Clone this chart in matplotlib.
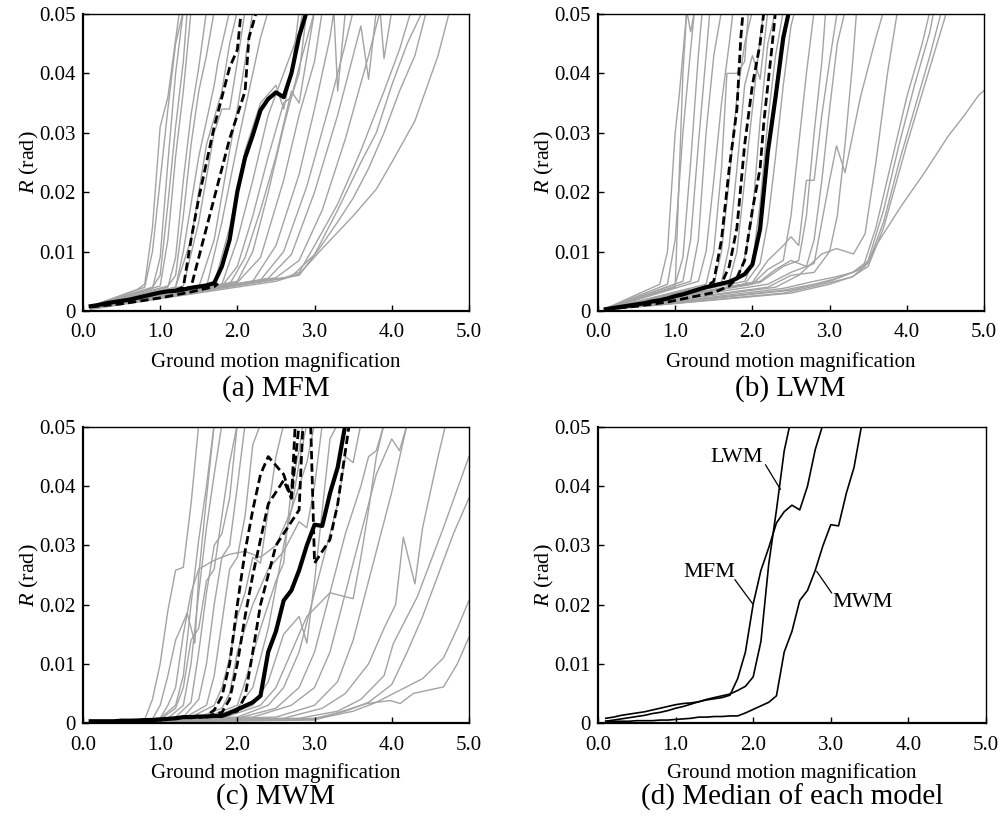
import numpy as np
import matplotlib.pyplot as plt

plt.rcParams['font.family'] = ['Liberation Serif', 'DejaVu Serif']
plt.rcParams['mathtext.fontset'] = 'custom'
plt.rcParams['mathtext.rm'] = 'Liberation Serif'
plt.rcParams['mathtext.it'] = 'Liberation Serif:italic'

# ground motion magnification grid (0.1 steps)
gm = np.round(np.arange(1, 51) * 0.1, 1)

# median curves of each model
mfm_median = [0.0008, 0.0010, 0.0013, 0.0015, 0.0017, 0.0019, 0.0022, 0.0025, 0.0028, 0.0031,
              0.0033, 0.0034, 0.0036, 0.0039, 0.0041, 0.0043, 0.0047, 0.0075, 0.0120, 0.0201,
              0.0258, 0.0296, 0.0338, 0.0357, 0.0368, 0.0360, 0.0400, 0.0462, 0.0505]
lwm_median = [0.0003, 0.0005, 0.0007, 0.0009, 0.0011, 0.0013, 0.0016, 0.0018, 0.0021, 0.0025,
              0.0028, 0.0032, 0.0036, 0.0040, 0.0043, 0.0046, 0.0049, 0.0055, 0.0062, 0.0078,
              0.0138, 0.0268, 0.0360, 0.0460, 0.0520]
mwm_median = [0.0003, 0.0003, 0.0003, 0.0003, 0.0004, 0.0004, 0.0004, 0.0005, 0.0005, 0.0006,
              0.0007, 0.0008, 0.0010, 0.0010, 0.0011, 0.0011, 0.0012, 0.0012, 0.0017, 0.0023,
              0.0029, 0.0035, 0.0046, 0.0120, 0.0155, 0.0207, 0.0224, 0.0258, 0.0300, 0.0335,
              0.0333, 0.0388, 0.0432, 0.0505]

# dashed percentile curves (x, R)
mfm_dash = [
    [(1.2, 0.0035), (1.3, 0.0040), (1.4, 0.012), (1.5, 0.019), (1.6, 0.025), (1.7, 0.031),
     (1.8, 0.036), (1.9, 0.041), (2.0, 0.044), (2.05, 0.0505)],
    [(1.3, 0.0037), (1.4, 0.0040), (1.5, 0.009), (1.6, 0.014), (1.7, 0.019), (1.8, 0.024),
     (1.9, 0.029), (2.0, 0.033), (2.1, 0.037), (2.15, 0.046), (2.25, 0.0505)],
    [(0.1, 0.0007), (0.5, 0.0012), (0.8, 0.0018), (1.0, 0.0022), (1.2, 0.0027), (1.4, 0.0032),
     (1.6, 0.0038), (1.7, 0.0041), (1.75, 0.0046)],
]
lwm_dash = [
    [(1.3, 0.0036), (1.4, 0.0041), (1.5, 0.0050), (1.6, 0.012), (1.7, 0.024), (1.8, 0.034),
     (1.85, 0.046), (1.88, 0.0505)],
    [(1.5, 0.0044), (1.6, 0.0046), (1.7, 0.0075), (1.8, 0.014), (1.9, 0.028), (2.0, 0.038),
     (2.1, 0.045), (2.15, 0.0505)],
    [(0.1, 0.0003), (0.5, 0.0008), (0.9, 0.0015), (1.2, 0.0023), (1.5, 0.0031), (1.7, 0.0042),
     (1.8, 0.0056), (1.9, 0.0085), (2.0, 0.017), (2.1, 0.024), (2.15, 0.032), (2.2, 0.038),
     (2.25, 0.044), (2.3, 0.0505)],
]
mwm_dash = [
    [(1.5, 0.0009), (1.6, 0.0012), (1.7, 0.0022), (1.8, 0.0045), (1.9, 0.010), (2.0, 0.020),
     (2.1, 0.029), (2.2, 0.036), (2.3, 0.042), (2.4, 0.045), (2.5, 0.0435), (2.6, 0.042),
     (2.7, 0.038), (2.75, 0.0505)],
    [(1.6, 0.0010), (1.7, 0.0015), (1.8, 0.0018), (1.9, 0.004), (2.0, 0.010), (2.1, 0.018),
     (2.2, 0.025), (2.3, 0.031), (2.4, 0.037), (2.5, 0.039), (2.6, 0.041), (2.7, 0.038),
     (2.8, 0.0505)],
    [(1.8, 0.0012), (2.0, 0.0020), (2.1, 0.0045), (2.2, 0.012), (2.3, 0.020), (2.4, 0.025),
     (2.5, 0.030), (2.6, 0.032), (2.7, 0.034), (2.8, 0.036), (2.85, 0.0505), (2.95, 0.0505),
     (3.0, 0.027), (3.1, 0.029), (3.2, 0.031), (3.3, 0.037), (3.4, 0.046), (3.45, 0.0505)],
]

# individual ground motion records (x, R)
mfm_runs = [
    [(0.1, 0.0008), (0.7, 0.0036), (0.8, 0.0045), (0.9, 0.014), (1.0, 0.031), (1.1, 0.036), (1.25, 0.0505)],
    [(0.1, 0.0007), (0.8, 0.0040), (0.9, 0.010), (1.0, 0.022), (1.1, 0.034), (1.2, 0.045), (1.3, 0.0505)],
    [(0.1, 0.0006), (0.9, 0.0038), (1.0, 0.009), (1.1, 0.025), (1.2, 0.040), (1.3, 0.0505)],
    [(0.1, 0.0008), (0.9, 0.0040), (1.0, 0.006), (1.1, 0.018), (1.2, 0.031), (1.3, 0.042), (1.35, 0.0505)],
    [(0.1, 0.0007), (1.0, 0.0042), (1.1, 0.012), (1.2, 0.026), (1.3, 0.037), (1.4, 0.0505)],
    [(0.1, 0.0006), (1.1, 0.0040), (1.2, 0.009), (1.3, 0.022), (1.4, 0.033), (1.5, 0.041), (1.6, 0.0505)],
    [(0.1, 0.0007), (1.1, 0.0042), (1.2, 0.006), (1.3, 0.016), (1.4, 0.028), (1.5, 0.037), (1.6, 0.043), (1.7, 0.0505)],
    [(0.1, 0.0006), (1.2, 0.0040), (1.3, 0.010), (1.5, 0.026), (1.7, 0.038), (1.75, 0.042), (1.9, 0.0505)],
    [(0.1, 0.0006), (1.2, 0.0040), (1.4, 0.012), (1.6, 0.028), (1.8, 0.037), (1.9, 0.045), (2.0, 0.0505)],
    [(0.1, 0.0005), (1.3, 0.0042), (1.5, 0.015), (1.7, 0.030), (1.8, 0.034), (1.9, 0.034), (2.0, 0.042), (2.1, 0.0505)],
    [(0.1, 0.0006), (1.5, 0.0040), (1.7, 0.012), (1.9, 0.027), (2.0, 0.034), (2.1, 0.042), (2.2, 0.0505)],
    [(0.1, 0.0006), (1.6, 0.0040), (1.8, 0.015), (2.0, 0.028), (2.2, 0.040), (2.3, 0.046), (2.4, 0.0505)],
    [(0.1, 0.0005), (1.7, 0.0045), (1.9, 0.014), (2.1, 0.027), (2.3, 0.035), (2.5, 0.038), (2.6, 0.034), (2.7, 0.040), (2.8, 0.0505)],
    [(0.1, 0.0005), (1.8, 0.0045), (2.0, 0.012), (2.2, 0.022), (2.4, 0.033), (2.6, 0.040), (2.8, 0.047), (2.85, 0.0505)],
    [(0.1, 0.0005), (1.8, 0.0042), (2.0, 0.0075), (2.2, 0.016), (2.4, 0.026), (2.6, 0.035), (2.7, 0.036), (2.8, 0.040), (2.9, 0.0505)],
    [(0.1, 0.0005), (1.9, 0.0045), (2.1, 0.009), (2.3, 0.017), (2.5, 0.026), (2.7, 0.037), (2.8, 0.035), (3.0, 0.0505)],
    [(0.1, 0.0005), (2.0, 0.0050), (2.2, 0.010), (2.4, 0.020), (2.6, 0.031), (2.8, 0.041), (3.0, 0.0505)],
    [(0.1, 0.0005), (2.0, 0.0048), (2.3, 0.009), (2.6, 0.022), (2.8, 0.033), (3.0, 0.042), (3.1, 0.0505)],
    [(0.1, 0.0004), (2.2, 0.0050), (2.5, 0.011), (2.8, 0.023), (3.0, 0.034), (3.2, 0.046), (3.25, 0.0505), (3.3, 0.037), (3.4, 0.0505)],
    [(0.1, 0.0004), (2.3, 0.0052), (2.6, 0.010), (2.9, 0.021), (3.2, 0.035), (3.4, 0.045), (3.5, 0.0505)],
    [(0.1, 0.0004), (2.4, 0.0055), (2.7, 0.0095), (3.0, 0.020), (3.3, 0.033), (3.6, 0.048), (3.7, 0.039), (3.8, 0.0505)],
    [(0.1, 0.0004), (2.5, 0.0056), (2.8, 0.0085), (3.1, 0.017), (3.4, 0.029), (3.7, 0.043), (3.85, 0.0505), (3.9, 0.0425), (4.0, 0.0505)],
    [(0.1, 0.0004), (2.6, 0.0055), (2.8, 0.0065), (3.0, 0.011), (3.3, 0.018), (3.6, 0.027), (3.9, 0.037), (4.1, 0.044), (4.25, 0.0505)],
    [(0.1, 0.0004), (2.7, 0.0058), (3.0, 0.0095), (3.3, 0.017), (3.6, 0.025), (3.8, 0.030), (4.0, 0.038), (4.2, 0.045), (4.4, 0.0505)],
    [(0.1, 0.0003), (2.8, 0.0060), (3.05, 0.0103), (3.3, 0.015), (3.5, 0.019), (3.7, 0.024), (3.9, 0.030), (4.1, 0.037), (4.3, 0.043), (4.45, 0.0505)],
    [(0.1, 0.0003), (2.5, 0.0050), (2.8, 0.0062), (3.1, 0.0105), (3.5, 0.016), (3.8, 0.0205), (4.0, 0.025), (4.3, 0.032), (4.6, 0.043), (4.75, 0.0505)],
]
lwm_runs = [
    [(0.1, 0.0004), (0.8, 0.0045), (0.9, 0.010), (1.0, 0.030), (1.05, 0.036), (1.15, 0.0505)],
    [(0.1, 0.0004), (0.9, 0.0045), (1.0, 0.012), (1.1, 0.030), (1.2, 0.044), (1.25, 0.0505)],
    [(0.1, 0.0004), (1.0, 0.0040), (1.1, 0.040), (1.15, 0.0505), (1.2, 0.047), (1.25, 0.0505)],
    [(0.1, 0.0004), (1.0, 0.0045), (1.1, 0.009), (1.2, 0.025), (1.3, 0.043), (1.35, 0.0505)],
    [(0.1, 0.0004), (1.1, 0.0050), (1.2, 0.012), (1.3, 0.028), (1.4, 0.043), (1.45, 0.0505)],
    [(0.1, 0.0004), (1.2, 0.0050), (1.3, 0.012), (1.4, 0.030), (1.5, 0.043), (1.6, 0.0505)],
    [(0.1, 0.0003), (1.3, 0.0050), (1.4, 0.010), (1.5, 0.022), (1.6, 0.035), (1.7, 0.045), (1.75, 0.0505)],
    [(0.1, 0.0003), (1.4, 0.0045), (1.5, 0.010), (1.6, 0.024), (1.67, 0.040), (1.8, 0.040), (1.9, 0.042), (1.95, 0.0505)],
    [(0.1, 0.0003), (1.5, 0.0045), (1.6, 0.010), (1.7, 0.022), (1.8, 0.036), (1.9, 0.045), (2.0, 0.0505)],
    [(0.1, 0.0003), (1.6, 0.0048), (1.7, 0.011), (1.8, 0.024), (1.9, 0.038), (2.0, 0.043), (2.1, 0.039), (2.2, 0.0505)],
    [(0.1, 0.0003), (1.7, 0.0050), (1.8, 0.010), (1.9, 0.022), (2.0, 0.034), (2.1, 0.046), (2.15, 0.0505)],
    [(0.1, 0.0003), (1.8, 0.0052), (1.9, 0.009), (2.0, 0.016), (2.1, 0.032), (2.2, 0.045), (2.3, 0.0505)],
    [(0.1, 0.0003), (1.9, 0.0050), (2.0, 0.008), (2.1, 0.018), (2.2, 0.032), (2.3, 0.043), (2.4, 0.0505)],
    [(0.1, 0.0003), (1.9, 0.0045), (2.1, 0.008), (2.2, 0.015), (2.3, 0.026), (2.4, 0.038), (2.5, 0.048), (2.55, 0.0505)],
    [(0.1, 0.0003), (2.0, 0.0048), (2.2, 0.0085), (2.4, 0.011), (2.5, 0.0125), (2.6, 0.011), (2.7, 0.022), (2.8, 0.022), (2.9, 0.033), (3.0, 0.042), (3.1, 0.0505)],
    [(0.1, 0.0003), (2.0, 0.0045), (2.2, 0.0070), (2.4, 0.0085), (2.5, 0.016), (2.6, 0.028), (2.7, 0.040), (2.8, 0.0505)],
    [(0.1, 0.0003), (2.1, 0.0048), (2.4, 0.0075), (2.6, 0.0085), (2.7, 0.016), (2.8, 0.030), (2.9, 0.042), (2.95, 0.0505)],
    [(0.1, 0.0003), (2.1, 0.0050), (2.3, 0.0070), (2.5, 0.0085), (2.7, 0.0075), (2.8, 0.012), (2.9, 0.022), (3.0, 0.034), (3.1, 0.045), (3.2, 0.0505)],
    [(0.1, 0.0003), (2.2, 0.0045), (2.5, 0.0065), (2.8, 0.0080), (2.9, 0.015), (3.0, 0.022), (3.09, 0.0278), (3.2, 0.0233), (3.4, 0.036), (3.6, 0.046), (3.7, 0.0505)],
    [(0.1, 0.0003), (2.2, 0.0040), (2.5, 0.0060), (2.8, 0.0065), (3.0, 0.010), (3.1, 0.016), (3.2, 0.028), (3.3, 0.042), (3.35, 0.0505)],
    [(0.1, 0.0003), (2.3, 0.0040), (2.6, 0.0060), (2.9, 0.0096), (3.09, 0.0105), (3.31, 0.0096), (3.46, 0.013), (3.6, 0.025), (3.75, 0.040), (3.88, 0.0505)],
    [(0.1, 0.0002), (2.4, 0.0038), (2.8, 0.0050), (3.1, 0.0058), (3.3, 0.0065), (3.45, 0.0080), (3.6, 0.014), (3.8, 0.025), (4.0, 0.036), (4.2, 0.045), (4.3, 0.0505)],
    [(0.1, 0.0002), (2.4, 0.0035), (2.8, 0.0045), (3.1, 0.0055), (3.4, 0.0070), (3.5, 0.0085), (3.7, 0.017), (3.9, 0.028), (4.1, 0.038), (4.3, 0.047), (4.35, 0.0505)],
    [(0.1, 0.0002), (2.5, 0.0035), (3.0, 0.0050), (3.3, 0.0065), (3.5, 0.0080), (3.7, 0.015), (3.9, 0.025), (4.1, 0.034), (4.3, 0.043), (4.45, 0.0505)],
    [(0.1, 0.0002), (2.5, 0.0030), (3.0, 0.0045), (3.3, 0.0058), (3.5, 0.0075), (3.7, 0.014), (4.0, 0.028), (4.3, 0.041), (4.52, 0.0505)],
    [(0.1, 0.0002), (2.4, 0.0030), (2.85, 0.0043), (3.29, 0.0057), (3.46, 0.0075), (3.63, 0.0116), (3.93, 0.0177),
     (4.23, 0.0233), (4.54, 0.0295), (4.75, 0.033), (4.93, 0.0363), (5.0, 0.0371)],
]
mwm_runs = [
    [(0.1, 0.0002), (0.8, 0.0006), (0.9, 0.004), (1.0, 0.010), (1.1, 0.019), (1.2, 0.0258), (1.3, 0.0263), (1.4, 0.037), (1.5, 0.0505)],
    [(0.1, 0.0002), (0.9, 0.0007), (1.0, 0.003), (1.1, 0.008), (1.2, 0.014), (1.3, 0.017), (1.35, 0.0186), (1.45, 0.0135), (1.5, 0.025), (1.6, 0.038), (1.7, 0.0505)],
    [(0.1, 0.0002), (1.0, 0.0008), (1.1, 0.003), (1.2, 0.006), (1.3, 0.015), (1.4, 0.022), (1.5, 0.026), (1.7, 0.0275), (1.9, 0.0285), (2.1, 0.029), (2.3, 0.028), (2.5, 0.030), (2.7, 0.036), (2.9, 0.044), (3.0, 0.0505)],
    [(0.1, 0.0002), (1.0, 0.0008), (1.2, 0.003), (1.3, 0.008), (1.4, 0.020), (1.5, 0.031), (1.6, 0.040), (1.7, 0.0505)],
    [(0.1, 0.0002), (1.1, 0.0008), (1.3, 0.003), (1.4, 0.010), (1.5, 0.022), (1.6, 0.033), (1.7, 0.042), (1.8, 0.0505)],
    [(0.1, 0.0002), (1.2, 0.0010), (1.4, 0.0035), (1.5, 0.012), (1.6, 0.022), (1.7, 0.030), (1.8, 0.032), (1.9, 0.038), (2.0, 0.0505)],
    [(0.1, 0.0002), (1.3, 0.0010), (1.5, 0.004), (1.6, 0.010), (1.7, 0.020), (1.8, 0.028), (1.9, 0.030), (2.0, 0.040), (2.1, 0.0505)],
    [(0.1, 0.0002), (1.3, 0.0008), (1.6, 0.003), (1.7, 0.008), (1.8, 0.017), (1.9, 0.026), (2.0, 0.028), (2.1, 0.035), (2.2, 0.047), (2.3, 0.0505)],
    [(0.1, 0.0002), (1.4, 0.0010), (1.7, 0.003), (1.8, 0.006), (1.9, 0.011), (2.0, 0.018), (2.1, 0.022), (2.2, 0.028), (2.3, 0.027), (2.4, 0.036), (2.5, 0.045), (2.6, 0.0505)],
    [(0.1, 0.0002), (1.5, 0.0010), (1.8, 0.0025), (1.9, 0.005), (2.0, 0.012), (2.2, 0.020), (2.4, 0.026), (2.6, 0.029), (2.8, 0.034), (2.9, 0.033), (3.0, 0.040), (3.1, 0.0505)],
    [(0.1, 0.0002), (1.6, 0.0010), (2.0, 0.003), (2.1, 0.007), (2.3, 0.016), (2.5, 0.024), (2.6, 0.027), (2.7, 0.040), (2.8, 0.046), (2.85, 0.0505)],
    [(0.1, 0.0002), (1.6, 0.0008), (2.0, 0.0025), (2.2, 0.006), (2.4, 0.016), (2.6, 0.030), (2.7, 0.036), (2.8, 0.044), (2.9, 0.0505)],
    [(0.1, 0.0002), (1.8, 0.0010), (2.2, 0.003), (2.4, 0.007), (2.6, 0.015), (2.8, 0.018), (2.9, 0.0135), (3.0, 0.024), (3.1, 0.036), (3.2, 0.048), (3.3, 0.0505)],
    [(0.1, 0.0002), (1.8, 0.0008), (2.3, 0.003), (2.5, 0.006), (2.7, 0.012), (2.9, 0.018), (3.2, 0.022), (3.5, 0.021), (3.6, 0.028), (3.7, 0.036), (3.8, 0.045), (3.9, 0.0505)],
    [(0.1, 0.0002), (2.0, 0.0010), (2.4, 0.003), (2.6, 0.006), (2.8, 0.012), (3.0, 0.022), (3.2, 0.032), (3.3, 0.037), (3.4, 0.045), (3.5, 0.044), (3.6, 0.0505)],
    [(0.1, 0.0002), (2.0, 0.0008), (2.5, 0.0025), (2.8, 0.006), (3.0, 0.012), (3.2, 0.022), (3.4, 0.032), (3.6, 0.040), (3.7, 0.045), (3.8, 0.046), (3.9, 0.0505)],
    [(0.1, 0.0002), (2.2, 0.0010), (2.7, 0.003), (3.0, 0.006), (3.2, 0.012), (3.4, 0.022), (3.6, 0.032), (3.8, 0.042), (4.0, 0.048), (4.1, 0.046), (4.2, 0.0505)],
    [(0.1, 0.0002), (2.5, 0.0010), (3.0, 0.003), (3.3, 0.007), (3.5, 0.014), (3.7, 0.024), (3.9, 0.034), (4.0, 0.039), (4.2, 0.0505)],
    [(0.1, 0.0002), (2.6, 0.0008), (3.1, 0.0025), (3.4, 0.005), (3.7, 0.010), (3.9, 0.016), (4.05, 0.020), (4.15, 0.0314), (4.3, 0.0235), (4.4, 0.033), (4.6, 0.045), (4.7, 0.0505)],
    [(0.1, 0.0002), (2.8, 0.0008), (3.3, 0.002), (3.6, 0.004), (3.9, 0.008), (4.02, 0.0134), (4.33, 0.0213), (4.67, 0.033), (5.0, 0.045)],
    [(0.1, 0.0002), (3.0, 0.0008), (3.4, 0.002), (3.7, 0.0035), (4.0, 0.0065), (4.2, 0.012), (4.4, 0.018), (4.6, 0.025), (4.8, 0.032), (5.0, 0.038)],
    [(0.1, 0.0001), (3.0, 0.0006), (3.5, 0.002), (3.8, 0.0035), (4.1, 0.0055), (4.4, 0.0075), (4.67, 0.011), (4.85, 0.016), (5.0, 0.0207)],
    [(0.1, 0.0001), (3.0, 0.0005), (3.68, 0.0033), (3.98, 0.0038), (4.11, 0.0033), (4.28, 0.005), (4.67, 0.0061), (4.85, 0.010), (5.0, 0.0145)],
    [(0.1, 0.0002), (1.0, 0.0006), (1.2, 0.0025), (1.3, 0.006), (1.4, 0.014), (1.5, 0.016), (1.6, 0.024), (1.7, 0.026), (1.8, 0.035), (1.9, 0.044), (2.0, 0.0505)],
]

panel_titles = ['(a) MFM', '(b) LWM', '(c) MWM', '(d) Median of each model']
x_ticks = [0, 1, 2, 3, 4, 5]
x_ticklabels = ['0.0', '1.0', '2.0', '3.0', '4.0', '5.0']
y_ticks = [0, 0.01, 0.02, 0.03, 0.04, 0.05]
y_ticklabels = ['0', '0.01', '0.02', '0.03', '0.04', '0.05']

# labels of panel (d): text position, leader start, leader end
median_labels = ['LWM', 'MFM', 'MWM']
label_xy = [(1.79, 0.0449), (1.44, 0.0254), (3.41, 0.0203)]
leader_from = [(2.16, 0.0436), (1.765, 0.0242), (3.01, 0.0220)]
leader_to = [(2.35, 0.0395), (1.99, 0.0202), (2.82, 0.0256)]

gray = '#a3a3a3'

fig = plt.figure(figsize=(10.02, 8.22), dpi=100)
rects = [[0.0828, 0.6217, 0.3852, 0.3613],
         [0.5968, 0.6217, 0.3852, 0.3613],
         [0.0828, 0.1204, 0.3852, 0.3601],
         [0.5968, 0.1204, 0.3872, 0.3601]]
axes = [fig.add_axes(r) for r in rects]


def style(ax, title, title_xy):
    ax.set_xlim(0, 5)
    ax.set_ylim(0, 0.05)
    ax.set_xticks(x_ticks)
    ax.set_xticklabels(x_ticklabels)
    ax.set_yticks(y_ticks)
    ax.set_yticklabels(y_ticklabels)
    ax.tick_params(direction='in', length=4, width=1, labelsize=15)
    ax.tick_params(axis='x', pad=9)
    ax.tick_params(axis='y', pad=5)
    for s in ['top', 'right']:
        ax.spines[s].set_linewidth(1.0)
    for s in ['left', 'bottom']:
        ax.spines[s].set_linewidth(1.6)
    ax.set_xlabel('Ground motion magnification', fontsize=15)
    ax.xaxis.set_label_coords(0.5, -0.137)
    ax.set_ylabel(r'$R$ (rad)', fontsize=16)
    ax.yaxis.set_label_coords(-0.108, 0.5)
    fig.text(title_xy[0], title_xy[1], title, fontsize=21, ha='center', va='center')


def draw_model(ax, runs, dashes, median):
    for run in runs:
        xs, ys = zip(*run)
        ax.plot(xs, ys, color=gray, lw=1.0, zorder=1)
    for d in dashes:
        xs, ys = zip(*d)
        ax.plot(xs, ys, color='black', lw=2.0, ls=(0, (3.0, 1.5)), zorder=2)
    ax.plot(gm[:len(median)], median, color='black', lw=3.0, zorder=3)


draw_model(axes[0], mfm_runs, mfm_dash, mfm_median)
draw_model(axes[1], lwm_runs, lwm_dash, lwm_median)
draw_model(axes[2], mwm_runs, mwm_dash, mwm_median)

ax = axes[3]
for med in [mfm_median, lwm_median, mwm_median]:
    ax.plot(gm[:len(med)], med, color='black', lw=1.2)
for name, txy, p0, p1 in zip(median_labels, label_xy, leader_from, leader_to):
    ax.text(txy[0], txy[1], name, fontsize=16, ha='center', va='center')
    ax.plot([p0[0], p1[0]], [p0[1], p1[1]], color='black', lw=0.9)

title_pos = [(0.2754, 0.527), (0.789, 0.527), (0.2754, 0.0304), (0.791, 0.0304)]
for a, t, p in zip(axes, panel_titles, title_pos):
    style(a, t, p)

fig.savefig('out.png', dpi=100)
